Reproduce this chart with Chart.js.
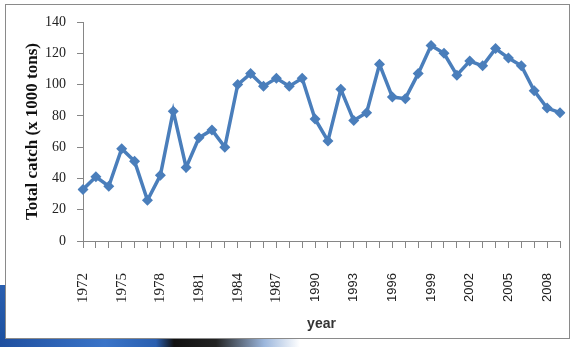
<!DOCTYPE html>
<html>
<head>
<meta charset="utf-8">
<script src="https://cdn.jsdelivr.net/npm/chart.js@4.4.1/dist/chart.umd.min.js"></script>
<style>
  body { margin: 0; background: #fff; }
  #wrap { position: relative; width: 573px; height: 347px; overflow: hidden; }
  #frame {
    position: absolute; left: 5px; top: 4px; width: 563px; height: 333px;
    border: 1px solid #8a8a8a; background: #fff;
  }
  #slideEdge {
    position: absolute; left: 0; top: 285px; width: 5px; height: 62px;
    background: linear-gradient(#2a5fb0, #1b4f9e);
  }
  #slideBar {
    position: absolute; left: 0; top: 339px; width: 300px; height: 8px;
    background: linear-gradient(90deg, #1f4f9f 0%, #3a74c8 35%, #2a5fb0 52%, #111 58%, #222 72%, #9bb6dc 88%, rgba(255,255,255,0) 100%);
  }
  canvas { position: absolute; left: 0; top: 0; }
</style>
</head>
<body>
<div id="wrap">
  <div id="frame"></div>
  <div id="slideEdge"></div>
  <div id="slideBar"></div>
  <canvas id="catchChart" width="573" height="347"></canvas>
</div>
<script>
// Annual catch, thousands of tons
const years = [
  '1972', '1973', '1974', '1975', '1976', '1977', '1978', '1979', '1980', '1981',
  '1982', '1983', '1984', '1985', '1986', '1987', '1988', '1989', '1990', '1991',
  '1992', '1993', '1994', '1995', '1996', '1997', '1998', '1999', '2000', '2001',
  '2002', '2003', '2004', '2005', '2006', '2007', '2008', '2009'
];
const catchValues = [
  33, 41, 35, 59, 51, 26, 42, 83, 47, 66,
  71, 60, 100, 107, 99, 104, 99, 104, 78, 64,
  97, 77, 82, 113, 92, 91, 107, 125, 120, 106,
  115, 112, 123, 117, 112, 96, 85, 82
];
const labeledYears = ['1972', '1975', '1978', '1981', '1984', '1987', '1990', '1993', '1996', '1999', '2002', '2005', '2008'];
const yTicks = [0, 20, 40, 60, 80, 100, 120, 140];

const lineBlue = '#4A7EBB';
const axisGray = '#868686';
const serif = '"Liberation Serif", "Times New Roman", serif';

new Chart(document.getElementById('catchChart'), {
  type: 'line',
  data: {
    labels: years,
    datasets: [{
      data: catchValues,
      borderColor: lineBlue,
      backgroundColor: lineBlue,
      borderWidth: 3.5,
      pointStyle: 'rectRot',
      pointRadius: 5.5,
      pointBorderWidth: 0,
      tension: 0,
      fill: false
    }]
  },
  options: {
    responsive: false,
    animation: false,
    layout: { padding: { left: 18, top: 22, right: 13, bottom: 10 } },
    plugins: { legend: { display: false }, tooltip: { enabled: false } },
    scales: {
      x: {
        type: 'category',
        offset: false,
        border: { display: true, color: axisGray, width: 1 },
        grid: { drawOnChartArea: false, drawTicks: true, tickLength: 7, color: axisGray },
        ticks: {
          autoSkip: false,
          maxRotation: 90,
          minRotation: 90,
          padding: 25,
          color: '#222',
          font: (ctx) => {
            const yr = parseInt(years[ctx.index], 10);
            return yr < 1990
              ? { family: serif, size: 15 }
              : { family: '"Liberation Sans", Arial, sans-serif', size: 13 };
          },
          callback: (value, index) => labeledYears.includes(years[index]) ? years[index] : ''
        },
        title: {
          display: true,
          text: 'year',
          color: '#333',
          font: { family: '"Liberation Sans Narrow", "Liberation Sans", sans-serif', size: 14, weight: 'bold' },
          padding: { top: 0, bottom: 4 }
        },
        afterFit: (scale) => {
          scale.height = 96;
          scale.paddingLeft = 0;
          scale.paddingRight = 0;
        }
      },
      y: {
        min: 0,
        max: 140,
        afterBuildTicks: (scale) => { scale.ticks = yTicks.map(v => ({ value: v })); },
        border: { display: true, color: axisGray, width: 1 },
        grid: { drawOnChartArea: false, drawTicks: true, tickLength: 6, color: axisGray },
        ticks: {
          padding: 11,
          color: '#222',
          font: { family: serif, size: 14 }
        },
        title: {
          display: true,
          text: 'Total catch (x 1000 tons)',
          color: '#111',
          font: { family: serif, size: 17, weight: 'bold' },
          padding: { top: 4, bottom: 0 }
        },
        afterFit: (scale) => {
          scale.width = 65;
          scale.paddingTop = 0;
          scale.paddingBottom = 0;
        }
      }
    }
  }
});
</script>
</body>
</html>
